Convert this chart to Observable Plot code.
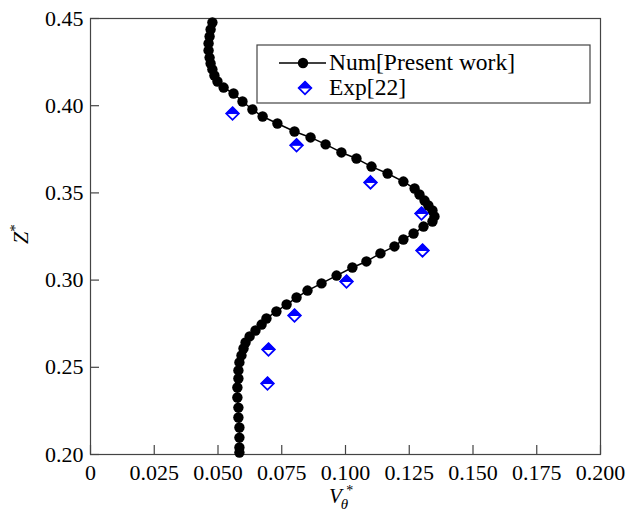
<!DOCTYPE html>
<html><head><meta charset="utf-8">
<script src="https://cdn.jsdelivr.net/npm/d3@7"></script>
<script src="https://cdn.jsdelivr.net/npm/@observablehq/plot@0.6"></script>
<style>
body{margin:0;background:#fff}
#chart{width:630px;height:515px}
#chart svg text{font-family:"Liberation Serif","Times New Roman",serif}
</style>
</head><body><div id="chart"></div>
<script>
// Numerical profile (Num[Present work])
const numV = [0.0478,0.0471,0.0467,0.0463,0.0463,0.0467,0.0471,0.0478,0.0486,0.0498,0.0522,0.0561,0.0596,0.0635,0.0675,0.0733,0.0800,0.0863,0.0922,0.0984,0.1043,0.1102,0.1165,0.1227,0.1271,0.1290,0.1310,0.1325,0.1341,0.1349,0.1341,0.1306,0.1267,0.1227,0.1192,0.1137,0.1082,0.1027,0.0965,0.0906,0.0851,0.0808,0.0769,0.0729,0.0690,0.0671,0.0647,0.0624,0.0608,0.0600,0.0592,0.0584,0.0580,0.0580,0.0576,0.0576,0.0580,0.0580,0.0584,0.0584,0.0584,0.0584];
const numZ = [0.4477,0.4437,0.4397,0.4357,0.4317,0.4276,0.4242,0.4208,0.4173,0.4139,0.4104,0.4070,0.4024,0.3978,0.3938,0.3898,0.3852,0.3818,0.3778,0.3732,0.3697,0.3651,0.3611,0.3565,0.3525,0.3491,0.3456,0.3428,0.3399,0.3365,0.3336,0.3307,0.3267,0.3233,0.3193,0.3153,0.3107,0.3072,0.3026,0.2981,0.2940,0.2900,0.2860,0.2820,0.2780,0.2745,0.2711,0.2677,0.2642,0.2608,0.2568,0.2528,0.2482,0.2436,0.2384,0.2327,0.2269,0.2212,0.2155,0.2097,0.2040,0.2011];
// Experimental data (Exp[22])
const expV = [0.0557,0.0808,0.1098,0.1298,0.1302,0.1004,0.0800,0.0698,0.0694];
const expZ = [0.3955,0.3773,0.3560,0.3382,0.3170,0.2992,0.2797,0.2602,0.2407];
// Ticks
const xTicks = [0,0.025,0.05,0.075,0.1,0.125,0.15,0.175,0.2];
const yTicks = [0.2,0.25,0.3,0.35,0.4,0.45];
const legendLabels = ["Num[Present work]","Exp[22]"];

const num = numV.map((v,i)=>({v, z:numZ[i]}));
const exp = expV.map((v,i)=>({v, z:expZ[i]}));

const diamondFull = {draw(ctx, size){const r=Math.sqrt(size/Math.PI);ctx.moveTo(0,-r);ctx.lineTo(r,0);ctx.lineTo(0,r);ctx.lineTo(-r,0);ctx.closePath();}};
const diamondTop = {draw(ctx, size){const r=Math.sqrt(size/Math.PI);ctx.moveTo(0,-r);ctx.lineTo(r,0);ctx.lineTo(-r,0);ctx.closePath();}};

const FONT = "Liberation Serif, Times New Roman, serif";
const axisColor = "#444";

const chart = Plot.plot({
  width: 630, height: 515,
  marginLeft: 90, marginRight: 30, marginTop: 18, marginBottom: 61,
  style: {fontFamily: FONT, fontSize: "22px", color: "#000", background: "#fff"},
  x: {domain: [0, 0.2]},
  y: {domain: [0.2, 0.45]},
  marks: [
    Plot.frame({stroke: axisColor, strokeWidth: 1.2}),
    Plot.axisX(xTicks, {anchor: "bottom", tickSize: -9, tickPadding: 19, stroke: axisColor, strokeWidth: 1.2,
      tickFormat: d => d === 0 ? "0" : d.toFixed(3), fontSize: 22, fontFamily: FONT, fill: "#000", label: null}),
    Plot.axisY(yTicks, {anchor: "left", tickSize: -9, tickPadding: 16, stroke: axisColor, strokeWidth: 1.2,
      tickFormat: d => d.toFixed(2), fontSize: 22, fontFamily: FONT, fill: "#000", label: null}),
    Plot.line(num, {x: "v", y: "z", stroke: "#000", strokeWidth: 1.5}),
    Plot.dot(num, {x: "v", y: "z", r: 5.2, fill: "#000", stroke: "none"}),
    Plot.dot(exp, {x: "v", y: "z", r: 6.3, symbol: diamondFull, fill: "#fff", stroke: "#0000ff", strokeWidth: 1.8}),
    Plot.dot(exp, {x: "v", y: "z", r: 6.3, symbol: diamondTop, fill: "#0000ff", stroke: "#0000ff", strokeWidth: 1})
  ]
});
document.getElementById("chart").appendChild(chart);

const svg = d3.select(chart).attr("font-family", FONT);
// x title
const xt = svg.append("text").attr("x", 329).attr("y", 503).attr("text-anchor", "start")
  .attr("font-family", FONT).attr("font-size", 21).attr("fill", "#000");
xt.append("tspan").attr("font-style", "italic").text("V");
xt.append("tspan").attr("font-style", "italic").attr("font-size", 15).attr("dy", 6).attr("dx", -1).text("θ");
xt.append("tspan").attr("font-size", 14).attr("dy", -14).attr("dx", -2).text("*");
// y title
const yt = svg.append("text").attr("transform", "translate(28,234) rotate(-90)").attr("text-anchor", "middle")
  .attr("font-family", FONT).attr("font-size", 22).attr("fill", "#000");
yt.append("tspan").attr("font-style", "italic").text("Z");
yt.append("tspan").attr("font-size", 15).attr("dy", -8).text("*");

// legend
const lg = svg.append("g");
lg.append("rect").attr("x", 257).attr("y", 45).attr("width", 333).attr("height", 58)
  .attr("fill", "#fff").attr("stroke", axisColor).attr("stroke-width", 1.2);
lg.append("line").attr("x1", 279).attr("x2", 326).attr("y1", 63).attr("y2", 63).attr("stroke", "#000").attr("stroke-width", 1.5);
lg.append("circle").attr("cx", 303).attr("cy", 63).attr("r", 5.2).attr("fill", "#000");
const r = 6.3;
lg.append("path").attr("d", `M305,${88-r}L${305+r},88L305,${88+r}L${305-r},88Z`).attr("fill", "#fff").attr("stroke", "#0000ff").attr("stroke-width", 1.8);
lg.append("path").attr("d", `M305,${88-r}L${305+r},88L${305-r},88Z`).attr("fill", "#0000ff").attr("stroke", "#0000ff").attr("stroke-width", 1);
lg.append("text").attr("x", 329).attr("y", 70).attr("text-anchor", "start").attr("font-family", FONT).attr("font-size", 23.5).attr("fill", "#000").text(legendLabels[0]);
lg.append("text").attr("x", 329).attr("y", 95).attr("text-anchor", "start").attr("font-family", FONT).attr("font-size", 23.5).attr("fill", "#000").text(legendLabels[1]);
</script>
</body></html>
